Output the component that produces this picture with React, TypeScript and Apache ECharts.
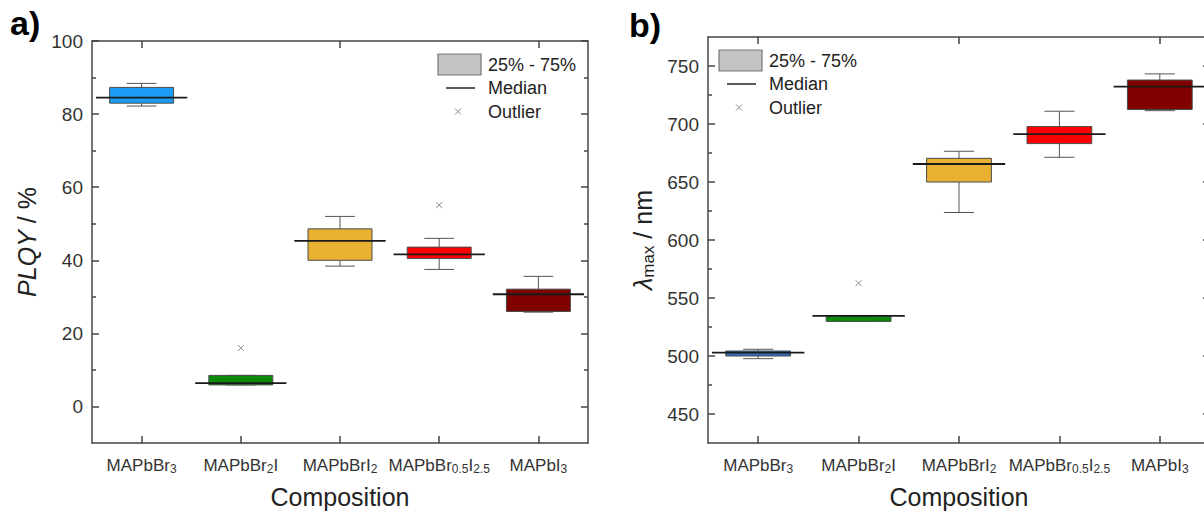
import React, { useEffect, useRef } from 'react';
import * as echarts from 'echarts';

const FONT = '"Liberation Sans", Arial, Helvetica, sans-serif';

const categories = ['MAPbBr3', 'MAPbBr2I', 'MAPbBrI2', 'MAPbBr0.5I2.5', 'MAPbI3'];
const categoryRich = ['MAPbBr{s|3}', 'MAPbBr{s|2}I', 'MAPbBrI{s|2}', 'MAPbBr{s|0.5}I{s|2.5}', 'MAPbI{s|3}'];

const boxColorsA = ['#1c9cf4', '#0c8a0c', '#e8b132', '#ff0000', '#800000'];
const boxColorsB = ['#2a6fc0', '#0c8a0c', '#e8b132', '#ff0000', '#800000'];

// Panel a: PLQY / %
const plqyMin = [82.2, 5.9, 38.4, 37.5, 25.8];
const plqyQ1 = [83.0, 5.9, 40.0, 40.5, 26.0];
const plqyMedian = [84.5, 6.4, 45.3, 41.6, 30.7];
const plqyQ3 = [87.3, 8.5, 48.6, 43.6, 32.1];
const plqyMax = [88.4, 8.5, 52.0, 46.0, 35.6];
const plqyOutlierCat = [1, 3];
const plqyOutlierVal = [16.0, 55.1];
const plqyTicks = [0, 20, 40, 60, 80, 100];
const plqyMinorTicks = [10, 30, 50, 70, 90];

// Panel b: lambda_max / nm
const lambdaMin = [497.7, 529.8, 623.7, 671.3, 711.5];
const lambdaQ1 = [500.0, 529.8, 650.0, 683.1, 712.5];
const lambdaMedian = [502.9, 534.6, 665.5, 691.2, 732.2];
const lambdaQ3 = [504.3, 534.2, 670.4, 697.8, 737.9];
const lambdaMax = [505.8, 534.2, 676.5, 711.0, 743.2];
const lambdaOutlierCat = [1];
const lambdaOutlierVal = [562.8];
const lambdaTicks = [450, 500, 550, 600, 650, 700, 750];
const lambdaMinorTicks = [475, 525, 575, 625, 675, 725];

const AXIS_COLOR = '#444';

function makeBoxRender(colors: string[]) {
  return (params: any, api: any) => {
    const i = api.value(0);
    const [xc, yMin] = api.coord([i, api.value(1)]);
    const yQ1 = api.coord([i, api.value(2)])[1];
    const yMed = api.coord([i, api.value(3)])[1];
    const yQ3 = api.coord([i, api.value(4)])[1];
    const yMax = api.coord([i, api.value(5)])[1];
    const band = api.size([1, 0])[0];
    const bw = band * 0.645;
    const mw = band * 0.92;
    const cw = band * 0.3;
    const ws = { stroke: '#555', lineWidth: 1 };
    return {
      type: 'group',
      children: [
        { type: 'line', shape: { x1: xc, y1: yMax, x2: xc, y2: yQ3 }, style: ws },
        { type: 'line', shape: { x1: xc, y1: yQ1, x2: xc, y2: yMin }, style: ws },
        { type: 'line', shape: { x1: xc - cw / 2, y1: yMax, x2: xc + cw / 2, y2: yMax }, style: ws },
        { type: 'line', shape: { x1: xc - cw / 2, y1: yMin, x2: xc + cw / 2, y2: yMin }, style: ws },
        {
          type: 'rect',
          shape: { x: xc - bw / 2, y: yQ3, width: bw, height: Math.max(yQ1 - yQ3, 1) },
          style: { fill: colors[i], stroke: '#4a4a4a', lineWidth: 1 },
        },
        { type: 'line', shape: { x1: xc - mw / 2, y1: yMed, x2: xc + mw / 2, y2: yMed }, style: { stroke: '#1a1a1a', lineWidth: 1.8 } },
      ],
    };
  };
}

function outlierRender(params: any, api: any) {
  const [x, y] = api.coord([api.value(0), api.value(1)]);
  const s = 3;
  const st = { stroke: '#8a8a8a', lineWidth: 1 };
  return {
    type: 'group',
    children: [
      { type: 'line', shape: { x1: x - s, y1: y - s, x2: x + s, y2: y + s }, style: st },
      { type: 'line', shape: { x1: x - s, y1: y + s, x2: x + s, y2: y - s }, style: st },
    ],
  };
}

function xAxes(gridIndex: number) {
  return [
    {
      type: 'category',
      gridIndex,
      position: 'bottom',
      data: categories,
      boundaryGap: true,
      axisLine: { show: true, onZero: false, lineStyle: { color: AXIS_COLOR, width: 1.5 } },
      axisTick: { show: true, inside: true, alignWithLabel: true, length: 7, lineStyle: { color: AXIS_COLOR, width: 1.5 } },
      axisLabel: {
        show: true,
        margin: 12,
        interval: 0,
        fontSize: 17,
        lineHeight: 20,
        color: '#333',
        fontFamily: FONT,
        formatter: (v: string, idx: number) => categoryRich[idx],
        rich: { s: { fontSize: 12, lineHeight: 12, padding: [8, 0, 0, 0], color: '#333', fontFamily: FONT } },
      },
      splitLine: { show: false },
      name: 'Composition',
      nameLocation: 'middle',
      nameGap: 41,
      nameTextStyle: { fontSize: 25, color: '#222', fontFamily: FONT },
    },
    {
      type: 'category',
      gridIndex,
      position: 'top',
      data: categories,
      boundaryGap: true,
      axisLine: { show: true, onZero: false, lineStyle: { color: AXIS_COLOR, width: 1.5 } },
      axisTick: { show: true, inside: true, alignWithLabel: true, length: 7, lineStyle: { color: AXIS_COLOR, width: 1.5 } },
      axisLabel: { show: false },
      splitLine: { show: false },
    },
  ];
}

function yAxes(gridIndex: number, min: number, max: number, ticks: number[], minor: number[], name: string, nameGap: number, rich: any) {
  const tickStyle = { color: AXIS_COLOR, width: 1.5 };
  return [
    {
      type: 'value',
      gridIndex,
      position: 'left',
      min,
      max,
      axisLine: { show: true, onZero: false, lineStyle: { color: AXIS_COLOR, width: 1.5 } },
      axisTick: { show: true, inside: true, length: 7, customValues: ticks, lineStyle: tickStyle },
      axisLabel: { show: true, customValues: ticks, margin: 9, fontSize: 19, color: '#333', fontFamily: FONT },
      splitLine: { show: false },
      name,
      nameLocation: 'middle',
      nameGap,
      nameTextStyle: { fontSize: 25, color: '#222', fontFamily: FONT, lineHeight: 30, rich },
    },
    {
      type: 'value',
      gridIndex,
      position: 'right',
      min,
      max,
      axisLine: { show: true, onZero: false, lineStyle: { color: AXIS_COLOR, width: 1.5 } },
      axisTick: { show: true, inside: true, length: 7, customValues: ticks, lineStyle: tickStyle },
      axisLabel: { show: false },
      splitLine: { show: false },
    },
    {
      type: 'value',
      gridIndex,
      position: 'left',
      min,
      max,
      axisLine: { show: false, onZero: false },
      axisTick: { show: true, inside: true, length: 4, customValues: minor, lineStyle: tickStyle },
      axisLabel: { show: false },
      splitLine: { show: false },
    },
    {
      type: 'value',
      gridIndex,
      position: 'right',
      min,
      max,
      axisLine: { show: false, onZero: false },
      axisTick: { show: true, inside: true, length: 4, customValues: minor, lineStyle: tickStyle },
      axisLabel: { show: false },
      splitLine: { show: false },
    },
  ];
}

function legendGraphics(x0: number, y0: number) {
  const ts = { fontSize: 18, fill: '#222', fontFamily: FONT, verticalAlign: 'middle', align: 'left' };
  return [
    { type: 'rect', shape: { x: x0, y: y0, width: 43, height: 21 }, style: { fill: '#c3c3c3', stroke: '#777', lineWidth: 1.2 } },
    { type: 'text', x: x0 + 50, y: y0 + 10.5, style: { ...ts, text: '25% - 75%' } },
    { type: 'line', shape: { x1: x0 + 8, y1: y0 + 34, x2: x0 + 37, y2: y0 + 34 }, style: { stroke: '#333', lineWidth: 1.6 } },
    { type: 'text', x: x0 + 50, y: y0 + 34, style: { ...ts, text: 'Median' } },
    { type: 'line', shape: { x1: x0 + 17, y1: y0 + 54.5, x2: x0 + 23, y2: y0 + 60.5 }, style: { stroke: '#8a8a8a', lineWidth: 1 } },
    { type: 'line', shape: { x1: x0 + 17, y1: y0 + 60.5, x2: x0 + 23, y2: y0 + 54.5 }, style: { stroke: '#8a8a8a', lineWidth: 1 } },
    { type: 'text', x: x0 + 50, y: y0 + 57.5, style: { ...ts, text: 'Outlier' } },
  ];
}

export default function App() {
  const ref = useRef<HTMLDivElement>(null);
  useEffect(() => {
    document.body.style.margin = '0';
    document.body.style.overflow = 'hidden';
    if (!ref.current) return;
    const chart = echarts.init(ref.current, undefined, { renderer: 'svg' });

    const boxDataA = categories.map((_, i) => [i, plqyMin[i], plqyQ1[i], plqyMedian[i], plqyQ3[i], plqyMax[i]]);
    const boxDataB = categories.map((_, i) => [i, lambdaMin[i], lambdaQ1[i], lambdaMedian[i], lambdaQ3[i], lambdaMax[i]]);
    const outA = plqyOutlierCat.map((c, i) => [c, plqyOutlierVal[i]]);
    const outB = lambdaOutlierCat.map((c, i) => [c, lambdaOutlierVal[i]]);

    const option: any = {
      animation: false,
      backgroundColor: '#ffffff',
      grid: [
        { left: 92, top: 41, width: 496, height: 402, containLabel: false, outerBoundsMode: 'none' },
        { left: 708, top: 37, width: 502, height: 406, containLabel: false, outerBoundsMode: 'none' },
      ],
      xAxis: [...xAxes(0), ...xAxes(1)],
      yAxis: [
        ...yAxes(0, -10, 100, plqyTicks, plqyMinorTicks, '{i|PLQY} / %', 50, {
          i: { fontStyle: 'italic', fontSize: 25, color: '#222', fontFamily: FONT },
        }),
        ...yAxes(1, 425, 775, lambdaTicks, lambdaMinorTicks, '{l|λ}{s|max} / nm', 50, {
          l: { fontStyle: 'italic', fontSize: 25, color: '#222', fontFamily: FONT },
          s: { fontSize: 17, lineHeight: 17, padding: [10, 0, 0, 0], color: '#222', fontFamily: FONT },
        }),
      ],
      series: [
        { type: 'custom', xAxisIndex: 0, yAxisIndex: 0, renderItem: makeBoxRender(boxColorsA), data: boxDataA, encode: { x: 0, y: [1, 2, 3, 4, 5] }, clip: false },
        { type: 'custom', xAxisIndex: 0, yAxisIndex: 0, renderItem: outlierRender, data: outA, encode: { x: 0, y: 1 } },
        { type: 'custom', xAxisIndex: 2, yAxisIndex: 4, renderItem: makeBoxRender(boxColorsB), data: boxDataB, encode: { x: 0, y: [1, 2, 3, 4, 5] }, clip: false },
        { type: 'custom', xAxisIndex: 2, yAxisIndex: 4, renderItem: outlierRender, data: outB, encode: { x: 0, y: 1 } },
      ],
      graphic: [
        { type: 'text', x: 10, y: 40, style: { text: 'a)', fontSize: 34, fontWeight: 'bold', fill: '#000', fontFamily: FONT, verticalAlign: 'bottom' } },
        { type: 'text', x: 629, y: 42, style: { text: 'b)', fontSize: 34, fontWeight: 'bold', fill: '#000', fontFamily: FONT, verticalAlign: 'bottom' } },
        ...legendGraphics(438, 54),
        ...legendGraphics(719, 50),
      ],
    };
    chart.setOption(option);
    return () => chart.dispose();
  }, []);
  return <div ref={ref} style={{ width: 1204, height: 511 }} />;
}
